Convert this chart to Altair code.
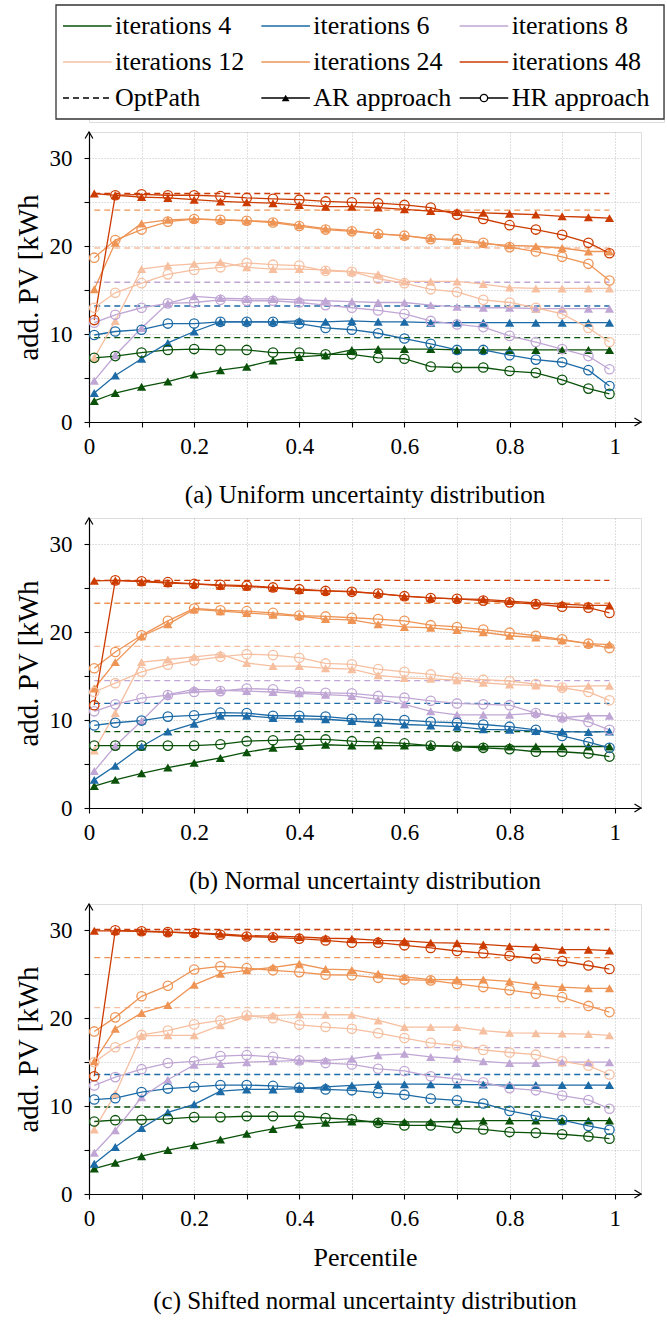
import altair as alt
import pandas as pd

FONT = "Liberation Serif"

PCT = [0.01, 0.05, 0.1, 0.15, 0.2, 0.25, 0.3, 0.35, 0.4, 0.45, 0.5,
       0.55, 0.6, 0.65, 0.7, 0.75, 0.8, 0.85, 0.9, 0.95, 0.99]
ITERS = [4, 6, 8, 12, 24, 48]
ITER_LABELS = [f"iterations {i}" for i in ITERS]
COLORS = ["#0a520a", "#1c6aa6", "#c0a6d4", "#f6bfa0", "#ee9455", "#cc3b00"]

# ---------- (a) Uniform ----------
AR_A = {
    4: [2.4, 3.3, 4.0, 4.6, 5.4, 5.9, 6.3, 7.0, 7.4, 7.6, 8.2, 8.3, 8.3, 8.3, 8.2, 8.2, 8.2, 8.2, 8.2, 8.2, 8.2],
    6: [3.3, 5.3, 7.2, 9.0, 10.3, 11.4, 11.4, 11.4, 11.5, 11.4, 11.5, 11.4, 11.4, 11.3, 11.3, 11.3, 11.3, 11.3, 11.3, 11.3, 11.3],
    8: [4.7, 7.6, 10.7, 13.5, 14.3, 14.1, 14.0, 14.0, 13.9, 13.8, 13.7, 13.6, 13.6, 13.3, 13.1, 13.0, 13.0, 12.9, 12.9, 12.9, 12.9],
    12: [7.3, 11.5, 17.4, 17.8, 18.0, 18.2, 17.6, 17.4, 17.4, 17.3, 17.1, 16.8, 16.0, 16.0, 16.0, 15.7, 15.3, 15.2, 15.2, 15.2, 15.2],
    24: [15.1, 20.4, 22.6, 23.0, 23.1, 23.0, 22.9, 22.8, 22.4, 22.0, 21.8, 21.4, 21.2, 20.9, 20.6, 20.3, 20.1, 20.0, 19.8, 19.4, 19.4],
    48: [26.0, 25.8, 25.6, 25.5, 25.3, 25.1, 25.0, 24.9, 24.7, 24.5, 24.5, 24.4, 24.2, 24.0, 23.9, 23.8, 23.7, 23.6, 23.4, 23.3, 23.2],
}
HR_A = {
    4: [7.3, 7.5, 7.9, 8.2, 8.3, 8.2, 8.2, 7.9, 7.9, 7.7, 7.7, 7.3, 7.2, 6.3, 6.2, 6.2, 5.8, 5.6, 4.8, 3.8, 3.2],
    6: [9.9, 10.3, 10.5, 11.2, 11.2, 11.4, 11.4, 11.4, 11.2, 10.7, 10.5, 10.1, 9.5, 8.9, 8.2, 8.2, 7.6, 7.1, 6.8, 5.9, 4.1],
    8: [11.3, 12.2, 13.0, 13.5, 13.6, 13.9, 13.8, 13.8, 13.6, 13.3, 13.0, 12.7, 12.3, 11.5, 11.1, 10.8, 9.8, 9.1, 8.3, 7.5, 6.0],
    12: [13.0, 14.7, 15.8, 16.8, 17.3, 17.6, 18.1, 17.9, 17.8, 17.2, 17.1, 16.3, 15.8, 15.1, 14.8, 13.9, 13.6, 13.0, 12.3, 10.7, 9.1],
    24: [18.7, 20.7, 21.9, 22.8, 23.1, 23.0, 22.9, 22.7, 22.3, 21.9, 21.7, 21.4, 21.2, 20.8, 20.8, 20.4, 19.9, 19.4, 18.8, 18.0, 16.1],
    48: [11.6, 25.8, 25.9, 25.8, 25.8, 25.7, 25.5, 25.4, 25.3, 25.1, 25.0, 24.9, 24.7, 24.4, 23.6, 23.1, 22.4, 21.9, 21.3, 20.4, 19.2],
}
OPT_A = [9.6, 13.2, 15.9, 19.8, 24.1, 26.0]

# ---------- (b) Normal ----------
AR_B = {
    4: [2.5, 3.2, 3.95, 4.6, 5.15, 5.7, 6.35, 6.85, 7.05, 7.2, 7.1, 7.1, 7.1, 7.1, 7.0, 7.0, 7.0, 7.0, 7.0, 7.0, 7.0],
    6: [3.2, 4.8, 7.0, 8.7, 9.6, 10.5, 10.5, 10.25, 10.15, 10.1, 9.9, 9.7, 9.5, 9.4, 9.25, 8.95, 8.9, 8.75, 8.7, 8.65, 8.7],
    8: [4.2, 7.05, 9.9, 12.9, 13.5, 13.4, 13.3, 13.2, 13.05, 12.9, 12.75, 12.35, 11.8, 11.0, 10.6, 10.6, 10.6, 10.8, 10.3, 10.5, 10.5],
    12: [6.55, 10.8, 16.6, 16.9, 17.2, 17.5, 16.5, 16.15, 16.15, 15.9, 15.8, 15.1, 14.8, 14.7, 14.55, 14.25, 14.05, 13.95, 13.8, 13.9, 13.9],
    24: [13.6, 16.6, 19.55, 20.9, 22.6, 22.4, 22.2, 22.0, 21.85, 21.5, 21.4, 20.9, 20.6, 20.5, 20.25, 20.0, 19.6, 19.4, 19.1, 18.7, 18.6],
    48: [25.85, 25.9, 25.75, 25.6, 25.5, 25.3, 25.2, 25.05, 24.8, 24.7, 24.65, 24.4, 24.1, 23.9, 23.8, 23.75, 23.55, 23.35, 23.2, 23.05, 23.05],
}
HR_B = {
    4: [7.1, 7.1, 7.1, 7.1, 7.1, 7.25, 7.6, 7.7, 7.8, 7.8, 7.6, 7.5, 7.35, 7.1, 7.0, 6.85, 6.7, 6.4, 6.4, 6.2, 5.85],
    6: [9.4, 9.7, 9.95, 10.4, 10.55, 10.85, 10.8, 10.5, 10.5, 10.4, 10.15, 10.15, 10.0, 9.8, 9.7, 9.5, 9.25, 8.9, 8.2, 7.5, 6.85],
    8: [11.0, 11.8, 12.5, 12.85, 13.2, 13.3, 13.6, 13.5, 13.2, 13.1, 13.05, 12.75, 12.55, 12.2, 11.9, 11.8, 11.7, 10.8, 10.3, 9.8, 8.9],
    12: [13.2, 14.2, 15.5, 16.3, 16.8, 17.2, 17.5, 17.4, 17.1, 16.45, 16.35, 15.8, 15.5, 15.2, 14.8, 14.6, 14.45, 14.1, 13.7, 13.2, 12.25],
    24: [15.9, 17.75, 19.65, 21.3, 22.7, 22.5, 22.4, 22.2, 21.9, 21.8, 21.65, 21.5, 21.3, 20.8, 20.6, 20.3, 19.95, 19.6, 19.2, 18.7, 18.2],
    48: [11.7, 25.9, 25.8, 25.7, 25.5, 25.4, 25.3, 25.1, 24.9, 24.7, 24.6, 24.4, 24.1, 23.9, 23.8, 23.6, 23.4, 23.2, 22.9, 22.8, 22.2],
}
OPT_B = [8.7, 11.9, 14.5, 18.4, 23.3, 25.9]

# ---------- (c) Shifted normal ----------
AR_C = {
    4: [2.9, 3.55, 4.3, 5.0, 5.55, 6.2, 6.85, 7.4, 7.9, 8.1, 8.25, 8.25, 8.2, 8.2, 8.25, 8.35, 8.35, 8.35, 8.35, 8.35, 8.35],
    6: [3.45, 5.35, 7.5, 9.3, 10.2, 11.7, 11.9, 11.9, 12.0, 12.2, 12.35, 12.5, 12.5, 12.5, 12.45, 12.45, 12.4, 12.4, 12.4, 12.4, 12.4],
    8: [4.7, 7.25, 11.0, 13.0, 14.7, 14.8, 15.0, 15.1, 15.2, 15.2, 15.4, 15.8, 15.95, 15.6, 15.4, 15.1, 14.9, 14.9, 15.0, 15.0, 15.0],
    12: [7.35, 11.4, 18.0, 18.05, 18.05, 19.2, 20.25, 20.3, 20.45, 20.4, 20.4, 19.75, 19.0, 19.0, 19.0, 18.6, 18.35, 18.3, 18.25, 18.2, 18.05],
    24: [15.1, 18.8, 20.6, 21.5, 23.8, 25.05, 25.45, 25.8, 26.2, 25.6, 25.5, 25.05, 24.7, 24.4, 24.4, 24.4, 24.2, 23.8, 23.55, 23.4, 23.4],
    48: [29.95, 29.95, 29.9, 29.8, 29.7, 29.6, 29.4, 29.35, 29.25, 29.1, 29.05, 28.85, 28.8, 28.6, 28.55, 28.4, 28.2, 28.1, 27.8, 27.8, 27.7],
}
HR_C = {
    4: [8.25, 8.4, 8.45, 8.55, 8.75, 8.75, 8.85, 8.85, 8.85, 8.65, 8.5, 8.1, 7.8, 7.8, 7.5, 7.35, 7.05, 6.95, 6.8, 6.55, 6.3],
    6: [10.75, 10.9, 11.6, 12.0, 12.2, 12.4, 12.4, 12.3, 12.1, 11.9, 11.8, 11.5, 11.3, 10.85, 10.65, 10.3, 9.45, 8.9, 8.4, 7.75, 7.3],
    8: [12.35, 13.3, 14.2, 14.9, 15.1, 15.7, 15.8, 15.6, 15.2, 14.9, 14.75, 14.25, 14.0, 13.4, 13.1, 12.7, 12.05, 11.8, 11.2, 10.7, 9.7],
    12: [15.0, 16.7, 18.1, 18.6, 19.3, 19.75, 20.3, 20.0, 19.25, 19.0, 18.8, 18.3, 17.75, 17.2, 16.9, 16.4, 16.1, 15.85, 15.1, 14.6, 13.6],
    24: [18.5, 20.1, 22.5, 23.7, 25.55, 25.9, 25.7, 25.45, 25.25, 24.95, 24.9, 24.6, 24.4, 24.3, 23.9, 23.55, 23.2, 22.8, 22.4, 21.4, 20.7],
    48: [13.4, 30.0, 29.9, 29.8, 29.7, 29.5, 29.3, 29.2, 29.05, 28.85, 28.6, 28.6, 28.3, 28.0, 27.65, 27.4, 27.1, 26.8, 26.5, 26.0, 25.6],
}
OPT_C = [9.9, 13.6, 16.65, 21.2, 26.9, 30.1]

CAPTIONS = ["(a) Uniform uncertainty distribution",
            "(b) Normal uncertainty distribution",
            "(c) Shifted normal uncertainty distribution"]
Y_TITLE = "add. PV [kWh"
X_TITLE = "Percentile"

X_TICKS = [0, 0.1, 0.2, 0.3, 0.4, 0.5, 0.6, 0.7, 0.8, 0.9, 1.0]
Y_TICKS = [0, 5, 10, 15, 20, 25, 30]
X_MAX = 1.05
Y_MAX = 33

LEG_LABELS = ITER_LABELS + ["OptPath", "AR approach", "HR approach"]
LEG_COLORS = COLORS + ["black", "black", "black"]
LEG_KIND = ["line"] * 6 + ["dash", "AR", "HR"]
LEG_COL = [0, 1, 2, 0, 1, 2, 0, 1, 2]
LEG_ROW = [0, 0, 0, 1, 1, 1, 2, 2, 2]

W, H = 526, 290
CSCALE = alt.Scale(domain=ITER_LABELS, range=COLORS)
GRID = dict(grid=True, gridDash=[1, 2], gridColor="#b0b0b0", gridWidth=0.8,
            domainColor="black", domainWidth=1.2, tickColor="black", tickWidth=1.1,
            tickSize=5, labelFont=FONT, labelFontSize=23, labelColor="black",
            titleFont=FONT, titleFontWeight="normal", titleColor="black")


def long_df(ar, hr):
    rows = []
    for k, it in enumerate(ITERS):
        for approach, src in (("AR", ar), ("HR", hr)):
            for x, y in zip(PCT, src[it]):
                rows.append({"iter": ITER_LABELS[k], "approach": approach,
                             "x": x, "y": y})
    return pd.DataFrame(rows)


def panel(ar, hr, opt, caption, xtitle, cap_offset):
    df = long_df(ar, hr)
    odf = pd.DataFrame({"iter": ITER_LABELS, "y": opt,
                        "x": [PCT[0]] * 6, "x2": [PCT[-1]] * 6})
    xaxis_kw = dict(values=X_TICKS,
                    labelExpr="round(datum.value*10) % 2 === 0 ? format(datum.value, '~g') : ''",
                    labelPadding=8, labelFlush=False, titleFontSize=26,
                    titlePadding=14, **GRID)
    xscale = alt.Scale(domain=[0, X_MAX], nice=False)
    if xtitle:
        xenc = alt.X("x:Q", scale=xscale, axis=alt.Axis(title=xtitle, **xaxis_kw))
    else:
        xenc = alt.X("x:Q", scale=xscale, title=None, axis=alt.Axis(**xaxis_kw))
    yenc = alt.Y("y:Q", scale=alt.Scale(domain=[0, Y_MAX], nice=False),
                 axis=alt.Axis(values=Y_TICKS, title=Y_TITLE,
                               labelExpr="datum.value % 10 === 0 ? format(datum.value, '~g') : ''",
                               labelPadding=12, titleFontSize=29, titlePadding=6, **GRID))
    col = alt.Color("iter:N", scale=CSCALE, legend=None)

    base = alt.Chart(df)
    lines = base.mark_line(strokeWidth=1.3).encode(
        x=xenc, y=yenc, color=col, detail="approach:N", order="x:Q")
    ar_pts = base.transform_filter(alt.datum.approach == "AR").mark_point(
        shape="triangle-up", filled=True, size=85, opacity=1).encode(
        x="x:Q", y="y:Q", color=col)
    hr_pts = base.transform_filter(alt.datum.approach == "HR").mark_point(
        shape="circle", filled=False, size=88, strokeWidth=1.3, opacity=1).encode(
        x="x:Q", y="y:Q", color=col)
    opt_rules = alt.Chart(odf).mark_rule(strokeDash=[6, 4], strokeWidth=1.3).encode(
        x="x:Q", x2="x2:Q", y="y:Q", color=col)
    xarrow = alt.Chart(pd.DataFrame({"x": [X_MAX], "y": [0]})).mark_point(
        shape="M -1 -0.6 L 0 0 L -1 0.6", size=170, filled=False, stroke="black",
        strokeWidth=1.2, opacity=1).encode(x="x:Q", y="y:Q")
    yarrow = alt.Chart(pd.DataFrame({"x": [0], "y": [Y_MAX]})).mark_point(
        shape="M -0.6 1 L 0 0 L 0.6 1", size=170, filled=False, stroke="black",
        strokeWidth=1.2, opacity=1).encode(x="x:Q", y="y:Q")
    return alt.layer(opt_rules, lines, ar_pts, hr_pts, xarrow, yarrow).properties(
        width=round(W * X_MAX), height=H,
        title=alt.TitleParams(caption, orient="bottom", font=FONT, fontSize=25,
                              fontWeight="normal", color="black", offset=cap_offset))


# ---------- legend ----------
LINE_LEN = 0.245
TEXT_OFF = 0.262
ldf = pd.DataFrame({"label": LEG_LABELS, "color": LEG_COLORS, "kind": LEG_KIND,
                    "col": LEG_COL, "row": LEG_ROW})
ldf["xe"] = ldf["col"] + LINE_LEN
ldf["xm"] = ldf["col"] + LINE_LEN / 2
ldf["xt"] = ldf["col"] + TEXT_OFF
lx = alt.Scale(domain=[0, 3], range=[-26, 569])
ly = alt.Scale(domain=[0, 2], range=[21, 93])
LX = dict(scale=lx, axis=None)
LY = dict(scale=ly, axis=None)
lbase = alt.Chart(ldf)
leg_box = alt.Chart(pd.DataFrame({"a": [0]})).mark_rect(
    fill="white", stroke="#333333", strokeWidth=1.3).encode(
    x=alt.value(-33), x2=alt.value(575), y=alt.value(0), y2=alt.value(114))
leg_solid = lbase.transform_filter(alt.datum.kind != "dash").mark_rule(strokeWidth=1.5).encode(
    x=alt.X("col:Q", **LX), x2="xe:Q", y=alt.Y("row:Q", **LY),
    color=alt.Color("color:N", scale=None))
leg_dash = lbase.transform_filter(alt.datum.kind == "dash").mark_rule(
    strokeWidth=1.3, strokeDash=[6, 4]).encode(
    x=alt.X("col:Q", **LX), x2="xe:Q", y=alt.Y("row:Q", **LY),
    color=alt.Color("color:N", scale=None))
leg_tri = lbase.transform_filter(alt.datum.kind == "AR").mark_point(
    shape="triangle-up", filled=True, size=60, opacity=1, color="black").encode(
    x=alt.X("xm:Q", **LX), y=alt.Y("row:Q", **LY))
leg_circ = lbase.transform_filter(alt.datum.kind == "HR").mark_point(
    shape="circle", filled=True, fill="white", stroke="black", size=55,
    strokeWidth=1.3, opacity=1).encode(
    x=alt.X("xm:Q", **LX), y=alt.Y("row:Q", **LY))
leg_text = lbase.mark_text(align="left", baseline="middle", font=FONT,
                           fontSize=26, color="black").encode(
    x=alt.X("xt:Q", **LX), y=alt.Y("row:Q", **LY), text="label:N")
legend = alt.layer(leg_box, leg_solid, leg_dash, leg_tri, leg_circ, leg_text).properties(
    width=575, height=117)

pa = panel(AR_A, HR_A, OPT_A, CAPTIONS[0], None, 25)
pb = panel(AR_B, HR_B, OPT_B, CAPTIONS[1], None, 25)
pc = panel(AR_C, HR_C, OPT_C, CAPTIONS[2], X_TITLE, 19)

chart = alt.vconcat(legend, pa, pb, pc, spacing=6).properties(
    padding={"left": 13, "top": 3, "right": 0, "bottom": 0}
).configure_view(stroke=None).configure(font=FONT)

chart.save("out.html", embed_options={"renderer": "svg", "actions": False})
